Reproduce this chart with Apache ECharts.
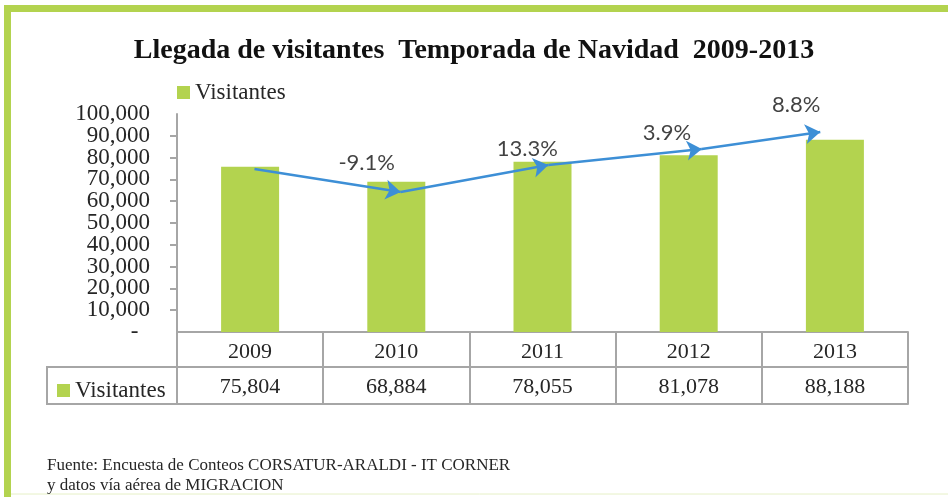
<!DOCTYPE html>
<html>
<head>
<meta charset="utf-8">
<script src="https://cdn.jsdelivr.net/npm/echarts@6/dist/echarts.min.js"></script>
<style>
  html, body { margin: 0; padding: 0; background: #fff; }
  #main { width: 948px; height: 497px; }
</style>
</head>
<body>
<div id="main"></div>
<script>
const years = ['2009', '2010', '2011', '2012', '2013'];
const visitors = [75804, 68884, 78055, 81078, 88188];
const growthLabels = ['', '-9.1%', '13.3%', '3.9%', '8.8%'];
// hand drawn arrows: read in data units (x = category index)
const trendX = [0.03, 1.03, 2.04, 3.09, 3.9];
const trendY = [74800, 64200, 76600, 83900, 91700];
const yMin = 0;
const yMax = 100000;
const yStep = 10000;

const green = '#B3D34F';
const blue = '#3D8FD6';
const gridGray = '#A6A6A6';
const textColor = '#262626';
const serif = '"Liberation Serif", "Times New Roman", serif';

const fmt = v => v.toLocaleString('en-US');

// label offsets per arrow tip (styling only)
const labelOffsets = [[0, 0], [-34, -29], [-21, -16], [-35, -16], [-24, -27]];

const myChart = echarts.init(document.querySelector('#main'));

const arrows = [];
for (let i = 0; i < trendX.length - 1; i++) {
  arrows.push([
    { coord: [trendX[i], trendY[i]] },
    { coord: [trendX[i + 1], trendY[i + 1]] }
  ]);
}

const yLabelStyle = {
  margin: 27,
  fontFamily: serif,
  fontSize: 23,
  color: textColor
};

const option = {
  animation: false,
  title: [
    {
      text: 'Llegada de visitantes  Temporada de Navidad  2009-2013',
      left: 'center',
      top: 32,
      textStyle: { fontFamily: serif, fontWeight: 'bold', fontSize: 28, color: '#111' }
    },
    {
      text: 'Fuente: Encuesta de Conteos CORSATUR-ARALDI - IT CORNER\ny datos vía aérea de MIGRACION',
      left: 42,
      top: 451,
      textStyle: { fontFamily: serif, fontWeight: 'normal', fontSize: 17, lineHeight: 20, color: textColor }
    }
  ],
  legend: [
    {
      data: ['Visitantes'],
      left: 172,
      top: 76,
      itemWidth: 13,
      itemHeight: 13,
      icon: 'rect',
      textStyle: { fontFamily: serif, fontSize: 23, color: textColor }
    },
    {
      data: ['Visitantes'],
      left: 52,
      top: 374,
      itemWidth: 13,
      itemHeight: 13,
      icon: 'rect',
      selectedMode: false,
      textStyle: { fontFamily: serif, fontSize: 23, color: textColor }
    }
  ],
  grid: { left: 177, right: 40, top: 114, bottom: 165 },
  xAxis: [
    {
      type: 'category',
      data: years,
      position: 'bottom',
      axisLine: { onZero: false, lineStyle: { color: gridGray, width: 2 } },
      axisTick: { show: true, length: 72, interval: 0, lineStyle: { color: gridGray, width: 2 } },
      axisLabel: { margin: 9, fontFamily: serif, fontSize: 22, color: textColor }
    },
    {
      type: 'category',
      data: years,
      position: 'bottom',
      offset: 35,
      axisLine: { show: true, onZero: false, lineStyle: { color: gridGray, width: 2 } },
      axisTick: { show: false },
      axisLabel: {
        margin: 9,
        fontFamily: serif,
        fontSize: 22,
        color: textColor,
        formatter: (v, i) => fmt(visitors[i])
      }
    },
    {
      type: 'category',
      data: years,
      position: 'bottom',
      offset: 72,
      axisLine: { show: true, onZero: false, lineStyle: { color: gridGray, width: 2 } },
      axisTick: { show: false },
      axisLabel: { show: false }
    },
    {
      type: 'value',
      min: -0.5,
      max: 4.5,
      show: false
    }
  ],
  yAxis: [
    {
      type: 'value',
      min: yMin,
      max: yMax,
      interval: yStep,
      splitLine: { show: false },
      axisLine: { show: true, onZero: false, lineStyle: { color: gridGray, width: 2 } },
      axisTick: { show: true, length: 7, lineStyle: { color: gridGray, width: 2 } },
      axisLabel: Object.assign({}, yLabelStyle, {
        showMinLabel: false,
        showMaxLabel: false,
        formatter: v => fmt(v)
      })
    },
    {
      // only the end labels (0 and 100,000)
      type: 'value',
      position: 'left',
      min: yMin,
      max: yMax,
      interval: yStep,
      splitLine: { show: false },
      axisLine: { show: false, onZero: false },
      axisTick: { show: false },
      axisLabel: Object.assign({}, yLabelStyle, {
        showMinLabel: true,
        showMaxLabel: true,
        formatter: v => (v === yMin ? '-  ' : v === yMax ? fmt(v) : '')
      })
    }
  ],
  series: [
    {
      name: 'Visitantes',
      type: 'bar',
      data: visitors,
      barWidth: 58,
      itemStyle: { color: green }
    },
    {
      name: 'trend',
      type: 'scatter',
      xAxisIndex: 3,
      clip: false,
      symbolSize: 0,
      silent: true,
      data: trendX.map((x, i) => ({
        value: [x, trendY[i]],
        label: { offset: labelOffsets[i] }
      })),
      label: {
        show: true,
        position: 'inside',
        fontFamily: 'Lato, sans-serif',
        fontSize: 22,
        color: '#111',
        formatter: p => growthLabels[p.dataIndex]
      },
      markLine: {
        silent: true,
        symbol: ['none', 'arrow'],
        symbolSize: 15,
        label: { show: false },
        lineStyle: { color: blue, width: 2.5, type: 'solid' },
        emphasis: { disabled: true },
        data: arrows
      }
    }
  ],
  graphic: [
    { type: 'rect', shape: { x: 4, y: 5, width: 944, height: 7 }, style: { fill: green } },
    { type: 'rect', shape: { x: 4, y: 5, width: 7, height: 492 }, style: { fill: green } },
    { type: 'line', shape: { x1: 11, y1: 494, x2: 948, y2: 494 }, style: { stroke: '#E6F0C6', lineWidth: 1 } },
    { type: 'line', shape: { x1: 47, y1: 367, x2: 177, y2: 367 }, style: { stroke: gridGray, lineWidth: 2 } },
    { type: 'line', shape: { x1: 47, y1: 404, x2: 177, y2: 404 }, style: { stroke: gridGray, lineWidth: 2 } },
    { type: 'line', shape: { x1: 47, y1: 366, x2: 47, y2: 405 }, style: { stroke: gridGray, lineWidth: 2 } }
  ]
};

option && myChart.setOption(option);
</script>
</body>
</html>
